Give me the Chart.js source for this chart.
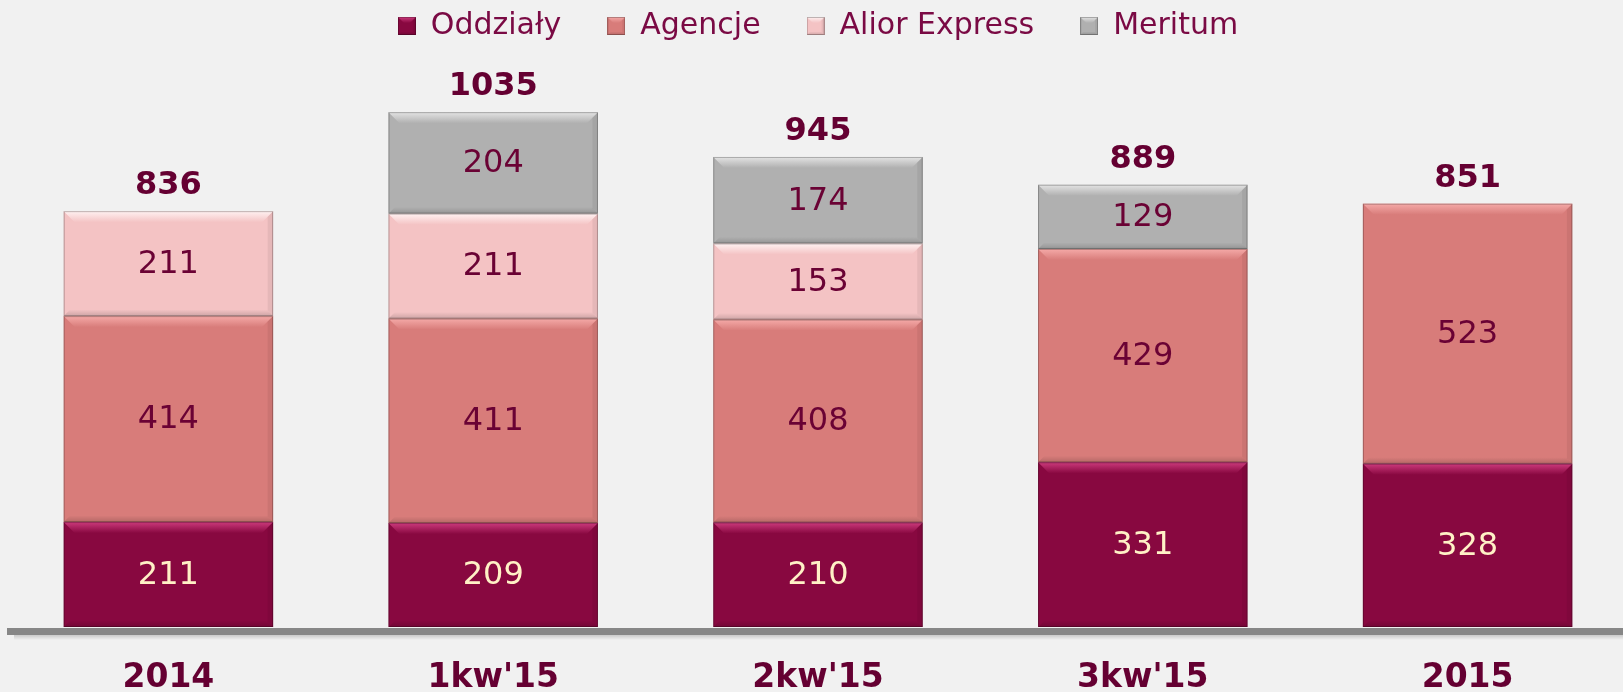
<!DOCTYPE html>
<html>
<head>
<meta charset="utf-8">
<script src="https://cdn.jsdelivr.net/npm/chart.js@4.4.1/dist/chart.umd.min.js"></script>
<style>
  html, body { margin: 0; padding: 0; background: #f1f1f1; overflow: hidden; }
  #wrap { position: relative; width: 1632px; height: 692px; }
</style>
</head>
<body>
<div id="wrap"><canvas id="c"></canvas></div>
<script>
// ---- data ----
const categories = ["2014", "1kw'15", "2kw'15", "3kw'15", "2015"];
const oddzialy     = [211, 209, 210, 331, 328];
const agencje      = [414, 411, 408, 429, 523];
const aliorExpress = [211, 211, 153, null, null];
const meritum      = [null, 204, 174, 129, null];
const totals       = [836, 1035, 945, 889, 851];
const seriesNames  = ["Oddziały", "Agencje", "Alior Express", "Meritum"];

const colors     = ["#880840", "#d87c7a", "#f4c3c4", "#b0b0b0"];
const highlights = ["#cc3a7c", "#f5aaa8", "#fff2f2", "#e4e4e4"];
const labelColor = ["#fff1c6", "#6a0234", "#6a0234", "#6a0234"];
const maroon = "#650032";

function bevelBox(ctx, x0, y0, x1, y1, b, base, hi) {
  const w = x1 - x0, h = y1 - y0;
  b = Math.min(b, w / 2, h / 2);
  let g = ctx.createLinearGradient(0, y0, 0, y0 + b);
  g.addColorStop(0, hi);
  g.addColorStop(1, base);
  ctx.fillStyle = g;
  ctx.beginPath(); ctx.moveTo(x0, y0); ctx.lineTo(x1, y0); ctx.lineTo(x1 - b, y0 + b); ctx.lineTo(x0 + b, y0 + b); ctx.closePath(); ctx.fill();
  g = ctx.createLinearGradient(0, y1 - b * 0.6, 0, y1);
  g.addColorStop(0, "rgba(0,0,0,0.0)");
  g.addColorStop(1, "rgba(0,0,0,0.16)");
  ctx.fillStyle = g;
  ctx.beginPath(); ctx.moveTo(x0, y1); ctx.lineTo(x1, y1); ctx.lineTo(x1 - b * 0.6, y1 - b * 0.6); ctx.lineTo(x0 + b * 0.6, y1 - b * 0.6); ctx.closePath(); ctx.fill();
  ctx.fillStyle = "rgba(0,0,0,0.06)";
  ctx.beginPath(); ctx.moveTo(x1, y0); ctx.lineTo(x1 - b * 0.5, y0 + b * 0.5); ctx.lineTo(x1 - b * 0.5, y1 - b * 0.5); ctx.lineTo(x1, y1); ctx.closePath(); ctx.fill();
  ctx.strokeStyle = "rgba(0,0,0,0.25)";
  ctx.lineWidth = 1;
  ctx.strokeRect(x0 + 0.5, y0 + 0.5, w - 1, h - 1);
}

function legendIcon(i) {
  const c = document.createElement("canvas");
  c.width = 18; c.height = 18;
  const ctx = c.getContext("2d");
  ctx.fillStyle = colors[i];
  ctx.fillRect(0, 0, 18, 18);
  bevelBox(ctx, 0, 0, 18, 18, 6, colors[i], highlights[i]);
  return c;
}

const seriesData = [oddzialy, agencje, aliorExpress, meritum];
const datasets = seriesNames.map((name, i) => ({
  label: name,
  data: seriesData[i],
  backgroundColor: colors[i],
  borderWidth: 0,
  pointStyle: legendIcon(i),
  barPercentage: 0.645,
  categoryPercentage: 1.0
}));

const decorPlugin = {
  id: "decor",
  beforeDatasetsDraw(chart) {
    const { ctx, chartArea } = chart;
    ctx.save();
    const y = chartArea.bottom + 1;
    const g = ctx.createLinearGradient(0, y + 7, 0, y + 12);
    g.addColorStop(0, "rgba(0,0,0,0.16)");
    g.addColorStop(1, "rgba(0,0,0,0)");
    ctx.fillStyle = g;
    ctx.fillRect(14, y + 7, chart.width, 5);
    ctx.fillStyle = "#878787";
    ctx.fillRect(7, y, chart.width, 7);
    ctx.restore();
  },
  afterDatasetsDraw(chart) {
    const { ctx } = chart;
    ctx.save();
    const tops = [];
    chart.data.datasets.forEach((ds, di) => {
      const meta = chart.getDatasetMeta(di);
      meta.data.forEach((el, i) => {
        const v = ds.data[i];
        if (v === null || v === undefined) return;
        const p = el.getProps(["x", "y", "base", "width"], true);
        const x0 = p.x - p.width / 2, x1 = p.x + p.width / 2;
        const y0 = Math.min(p.y, p.base), y1 = Math.max(p.y, p.base);
        bevelBox(ctx, x0, y0, x1, y1, 11, colors[di], highlights[di]);
        ctx.fillStyle = labelColor[di];
        ctx.font = "32px 'DejaVu Sans'";
        ctx.textAlign = "center";
        ctx.textBaseline = "middle";
        ctx.fillText(String(v), p.x, (y0 + y1) / 2 + 1);
        if (tops[i] === undefined || y0 < tops[i].y) tops[i] = { x: p.x, y: y0 };
      });
    });
    ctx.fillStyle = maroon;
    ctx.font = "bold 32px 'DejaVu Sans'";
    ctx.textAlign = "center";
    ctx.textBaseline = "alphabetic";
    tops.forEach((t, i) => {
      if (t) ctx.fillText(String(totals[i]), t.x, t.y - 17);
    });
    ctx.restore();
  }
};

new Chart(document.getElementById("c"), {
  type: "bar",
  data: { labels: categories, datasets },
  plugins: [decorPlugin],
  options: {
    responsive: true,
    maintainAspectRatio: false,
    animation: false,
    layout: { padding: { left: 6, right: 2, top: -35, bottom: 0 } },
    plugins: {
      tooltip: { enabled: false },
      legend: {
        position: "top",
        labels: {
          usePointStyle: true,
          boxWidth: 18,
          boxHeight: 18,
          padding: 46,
          color: "#7a0a44",
          font: { family: "'DejaVu Sans'", size: 30 }
        }
      }
    },
    scales: {
      x: {
        stacked: true,
        grid: { display: false, drawTicks: false },
        border: { display: false },
        ticks: {
          color: maroon,
          padding: 35,
          font: { family: "'DejaVu Sans'", size: 33, weight: "bold", lineHeight: 1.0 }
        },
        afterFit(scale) { scale.height = 65; }
      },
      y: {
        stacked: true,
        display: false,
        min: 0,
        max: 1158
      }
    }
  }
});
</script>
</body>
</html>
